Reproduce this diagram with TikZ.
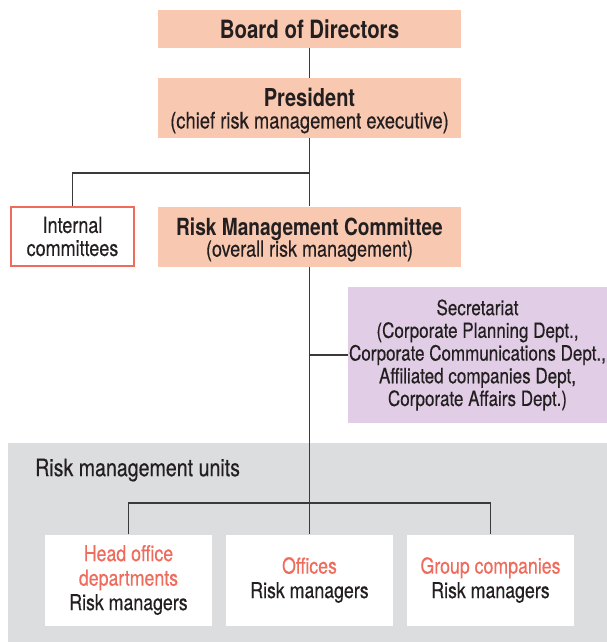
\documentclass[tikz,border=0pt]{standalone}
\usepackage{fontspec}
\setmainfont{TeX Gyre Heros}[FakeStretch=0.81, UprightFeatures={FakeBold=0.35}]
\definecolor{peach}{HTML}{F9C8B0}
\definecolor{lilac}{HTML}{E1CDE5}
\definecolor{graybg}{HTML}{DCDDDF}
\definecolor{redc}{HTML}{EF6B5B}
\definecolor{ink}{HTML}{231F20}
\definecolor{linec}{HTML}{3A3A3A}
\begin{document}
\begin{tikzpicture}[x=1pt,y=-1pt,
  base/.style={inner sep=0pt, align=center, text=ink, font=\fontsize{21}{22.7}\selectfont},
  peachbox/.style={base, fill=peach, minimum width=303pt, minimum height=60pt},
  unitbox/.style={base, fill=white, minimum width=167pt, minimum height=91pt, font=\fontsize{21.9}{24.5}\selectfont},
  conn/.style={draw=linec, line width=1.1pt}]
\useasboundingbox (0,0) rectangle (607,642);
\fill[graybg] (8,443) rectangle (607,642);
\node[peachbox, minimum height=38pt] (board) at (309.5,29) {\fontsize{25.2}{28}\selectfont\bfseries Board of Directors};
\node[peachbox] (pres) at (309.5,108) {};
\node[base, font=\fontsize{22.7}{21.5}\selectfont] (prestext) at ([yshift=-3pt]pres.center) {{\fontsize{24.7}{21.5}\selectfont\bfseries President}\\(chief risk management executive)};
\node[peachbox] (rmc) at (309.5,236.5) {};
\node[base, font=\fontsize{22.2}{21.5}\selectfont] (rmctext) at ([yshift=-3pt]rmc.center) {{\fontsize{23.6}{21.5}\selectfont\bfseries Risk Management Committee}\\(overall risk management)};
\node[base, fill=white, draw=redc, line width=2pt, minimum width=123pt, minimum height=59pt, font=\fontsize{22.2}{23}\selectfont] (internal) at (72.5,236.5) {Internal\\committees};
\node[base, fill=lilac, minimum width=259pt, minimum height=136pt] (sec) at (477.5,355) {Secretariat\\(Corporate Planning Dept.,\\Corporate Communications Dept.,\\Affiliated companies Dept,\\Corporate Affairs Dept.)};
\node[base, anchor=west, font=\fontsize{24.2}{26}\selectfont] (units) at (35,470) {Risk management units};
\node[unitbox] (head) at (128.5,580) {\textcolor{redc}{Head office}\\\textcolor{redc}{departments}\\Risk managers};
\node[unitbox] (offices) at (309.5,580) {\textcolor{redc}{Offices}\\Risk managers};
\node[unitbox] (group) at (490.5,580) {\textcolor{redc}{Group companies}\\Risk managers};
\coordinate (j1) at (309.5,173);
\coordinate (j2) at (309.5,355);
\coordinate (j3) at (309.5,503);
\draw[conn] (board.south) -- (pres.north);
\draw[conn] (pres.south) -- (rmc.north);
\draw[conn] (j1) -| (internal.north);
\draw[conn] (rmc.south) -- (offices.north);
\draw[conn] (j2) -- (sec.west);
\draw[conn] (head.north) -- (head.north |- j3) -- (group.north |- j3) -- (group.north);
\end{tikzpicture}
\end{document}
